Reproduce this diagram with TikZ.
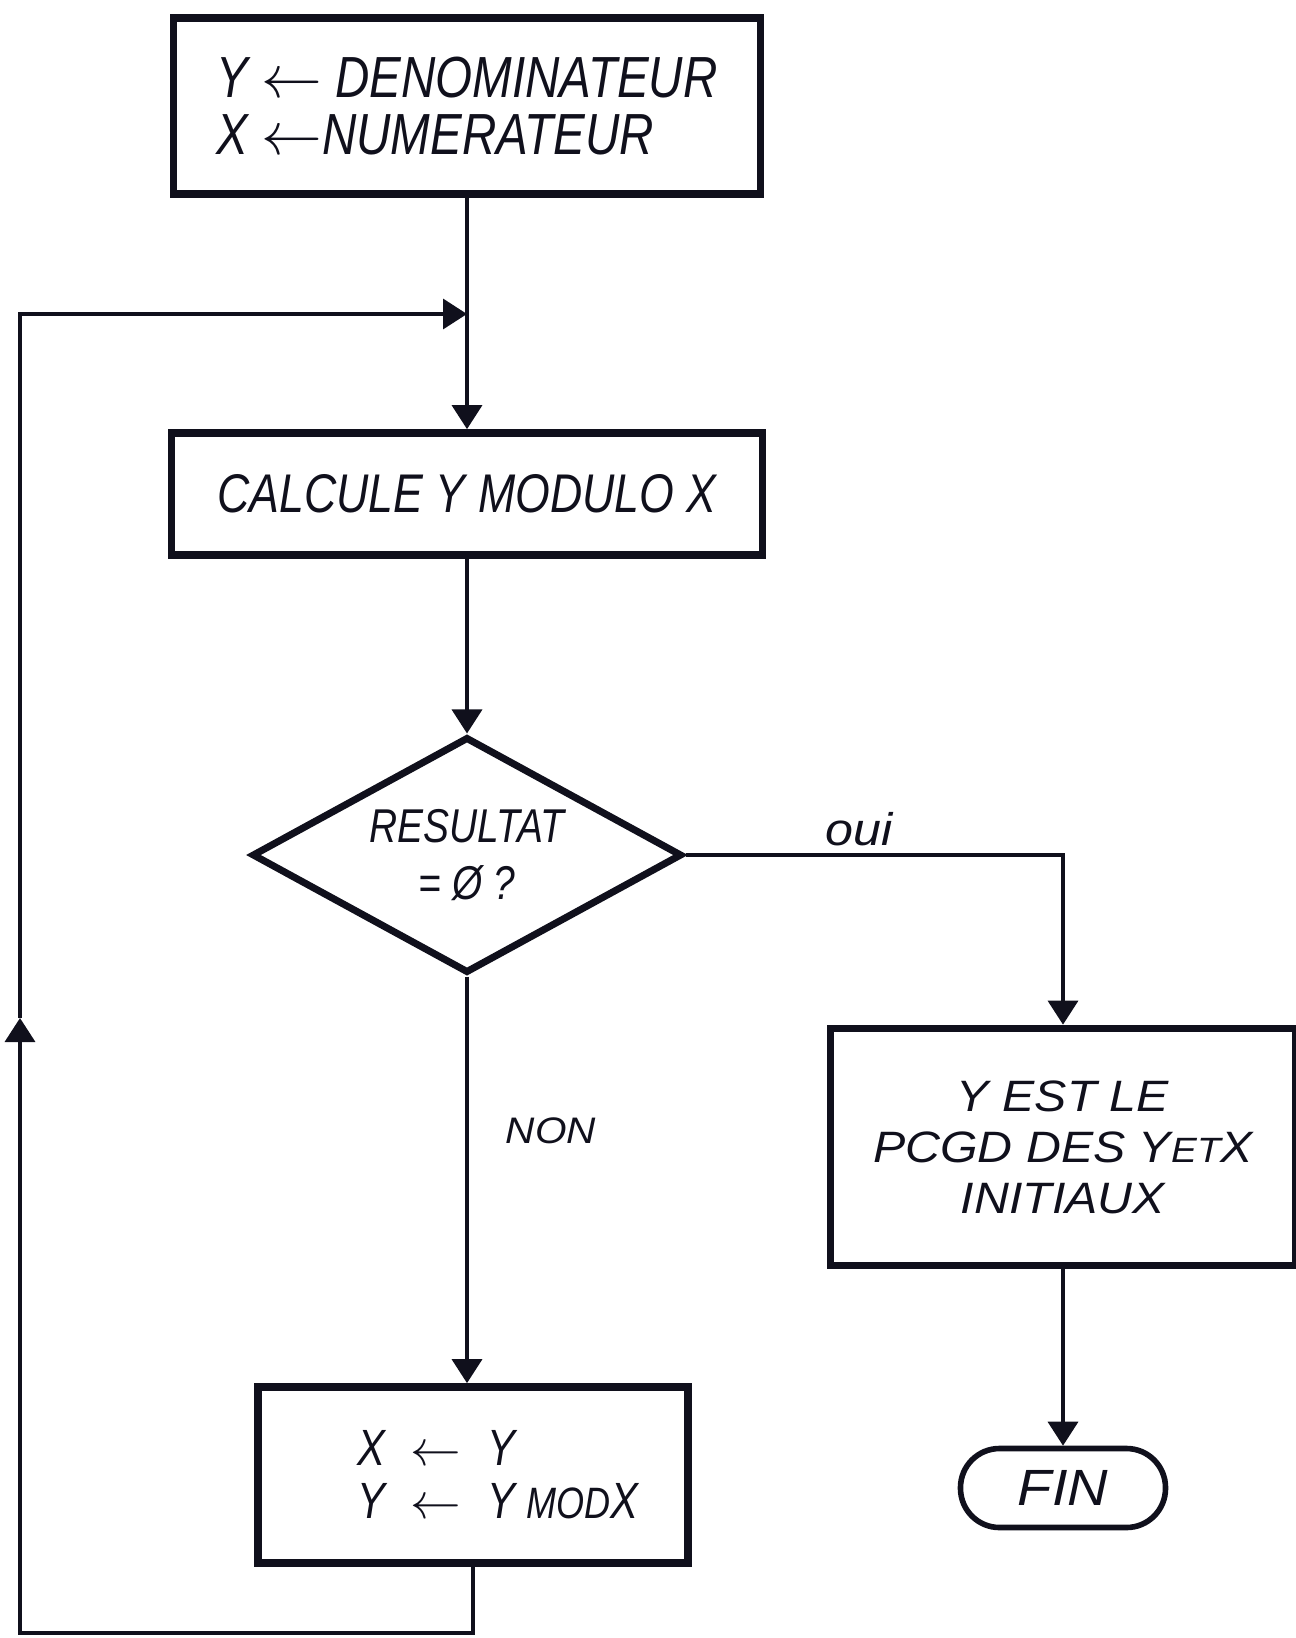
\documentclass[tikz,border=0pt]{standalone}
\usepackage{fontspec}
\usepackage{tikz}
\usetikzlibrary{arrows.meta, positioning, shapes.geometric}
\newfontfamily\hand[FakeStretch=0.82]{Liberation Sans}
\newfontfamily\handw[FakeStretch=1.1]{Liberation Sans}
\definecolor{ink}{HTML}{10101C}
\tikzset{
  blk/.style  = {draw=ink, text=ink, line width=2.2pt, align=center, inner sep=3pt},
  dec/.style  = {blk, diamond, aspect=1.82, line width=2pt},
  term/.style = {blk, rounded corners=3.9mm, line width=1.6pt},
  wire/.style = {draw=ink, line width=1pt},
  flow/.style = {wire, -{Triangle[length=2.4mm, width=3mm]}},
  lbl/.style  = {text=ink, inner sep=2pt}
}

\begin{document}
\begin{tikzpicture}[x=0.1mm, y=-0.1mm]
  \useasboundingbox (0,0) rectangle (1296,1638);

  \node[blk, minimum width=58.7mm, minimum height=17.6mm, align=left,
        font=\hand\itshape\fontsize{16.5}{16}\selectfont] (init) at (467,106)
       {Y $\leftarrow$ DENOMINATEUR\\X $\leftarrow$NUMERATEUR};
  \node[blk, minimum width=59.1mm, minimum height=12.2mm,
        font=\hand\itshape\fontsize{15.5}{17}\selectfont] (calc) at (467,494)
       {CALCULE Y MODULO X};
  \node[dec, minimum width=43mm, minimum height=23.6mm,
        font=\hand\itshape\fontsize{13.5}{16}\selectfont] (test) at (467,855)
       {RESULTAT\\= Ø ?};
  \node[blk, minimum width=46.5mm, minimum height=23.7mm,
        font=\handw\itshape\fontsize{12.5}{14.5}\selectfont] (pgcd) at (1063,1147)
       {Y EST LE\\PCGD DES Y{\fontsize{10}{12}\selectfont ET}X\\INITIAUX};
  \node[term, minimum width=20.5mm, minimum height=7.9mm,
        font=\handw\itshape\fontsize{14.5}{16}\selectfont] (fin) at (1063,1488) {FIN};
  \node[blk, minimum width=43mm, minimum height=17.6mm, align=left,
        font=\hand\itshape\fontsize{14.5}{15}\selectfont] (swap) at (473,1475)
       {\hspace*{5mm}X\enspace$\leftarrow$\enspace Y\\
        \hspace*{5mm}Y\enspace$\leftarrow$\enspace Y {\fontsize{12.5}{13}\selectfont MOD}X};

  \coordinate (join) at (467,314);
  \coordinate (back) at (20,1633);
  \coordinate (up)   at (20,1018);

  \draw[wire] (init) -- (join);
  \draw[flow] (join) -- (calc);
  \draw[flow] (calc) -- (test);
  \draw[flow] (test.east) -| node[lbl, above, pos=0.23, font=\handw\itshape\fontsize{13}{15}\selectfont] (oui) {oui} (pgcd.north);
  \draw[flow] (test.south) -- node[lbl, right=3mm, pos=0.38, font=\handw\itshape\fontsize{10.5}{12}\selectfont] (non) {NON}
       (test.south |- swap.north);
  \draw[flow] (pgcd) -- (fin);
  \draw[flow] (swap.south) -- (swap.south |- back) -- (back) -- (up);
  \draw[flow] (up) |- (join);
\end{tikzpicture}
\end{document}
